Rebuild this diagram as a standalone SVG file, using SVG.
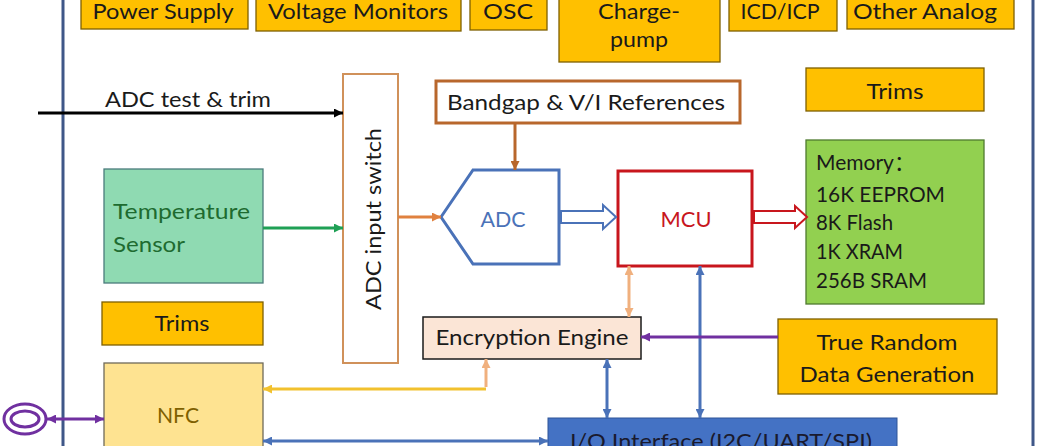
<svg xmlns="http://www.w3.org/2000/svg" width="1048" height="446" viewBox="0 0 1048 446">
<style>
  text { font-family: Lato, "Noto Sans", "Noto Sans CJK SC", sans-serif; font-size: 21px; fill: #1a1a1a; }
  .c { text-anchor: middle; }
  .gold { fill: #ffc000; stroke: #7f6000; stroke-width: 1.3; }
  .ln { fill: none; stroke-width: 3; }
</style>
<defs>
  <marker id="a-black" viewBox="0 0 10 10" refX="10" refY="5" markerWidth="9" markerHeight="9" markerUnits="userSpaceOnUse" orient="auto-start-reverse"><path d="M0,0 L10,5 L0,10 z" fill="#000"/></marker>
  <marker id="a-green" viewBox="0 0 10 10" refX="10" refY="5" markerWidth="9" markerHeight="9" markerUnits="userSpaceOnUse" orient="auto-start-reverse"><path d="M0,0 L10,5 L0,10 z" fill="#1fa055"/></marker>
  <marker id="a-orange" viewBox="0 0 10 10" refX="10" refY="5" markerWidth="9" markerHeight="9" markerUnits="userSpaceOnUse" orient="auto-start-reverse"><path d="M0,0 L10,5 L0,10 z" fill="#e0813f"/></marker>
  <marker id="a-brown" viewBox="0 0 10 10" refX="10" refY="5" markerWidth="9" markerHeight="9" markerUnits="userSpaceOnUse" orient="auto-start-reverse"><path d="M0,0 L10,5 L0,10 z" fill="#b8672c"/></marker>
  <marker id="a-blue" viewBox="0 0 10 10" refX="10" refY="5" markerWidth="9" markerHeight="9" markerUnits="userSpaceOnUse" orient="auto-start-reverse"><path d="M0,0 L10,5 L0,10 z" fill="#4a72b8"/></marker>
  <marker id="a-peach" viewBox="0 0 10 10" refX="10" refY="5" markerWidth="9" markerHeight="9" markerUnits="userSpaceOnUse" orient="auto-start-reverse"><path d="M0,0 L10,5 L0,10 z" fill="#f0b07e"/></marker>
  <marker id="a-yellow" viewBox="0 0 10 10" refX="10" refY="5" markerWidth="9" markerHeight="9" markerUnits="userSpaceOnUse" orient="auto-start-reverse"><path d="M0,0 L10,5 L0,10 z" fill="#f2c12e"/></marker>
  <marker id="a-purple" viewBox="0 0 10 10" refX="10" refY="5" markerWidth="9" markerHeight="9" markerUnits="userSpaceOnUse" orient="auto-start-reverse"><path d="M0,0 L10,5 L0,10 z" fill="#7030a0"/></marker>
</defs>

<rect width="1048" height="446" fill="#fff"/>

<g id="frame"><rect x="63" y="-10" width="970" height="470" fill="none" stroke="#3f5788" stroke-width="3"/></g>

<g id="power-supply"><rect class="gold" x="81" y="-5" width="167" height="34"/><text class="c" x="163" y="19" textLength="141" lengthAdjust="spacingAndGlyphs">Power Supply</text></g>
<g id="voltage-monitors"><rect class="gold" x="256" y="-5" width="205" height="36"/><text class="c" x="358" y="19" textLength="180" lengthAdjust="spacingAndGlyphs">Voltage Monitors</text></g>
<g id="osc"><rect class="gold" x="470" y="-5" width="77" height="35"/><text class="c" x="508" y="19" textLength="50" lengthAdjust="spacingAndGlyphs">OSC</text></g>
<g id="charge-pump"><rect class="gold" x="559" y="-5" width="161" height="67"/><text class="c" x="639" y="19" textLength="82" lengthAdjust="spacingAndGlyphs">Charge-</text><text class="c" x="639" y="47" textLength="58" lengthAdjust="spacingAndGlyphs">pump</text></g>
<g id="icd-icp"><rect class="gold" x="729" y="-5" width="108" height="36"/><text class="c" x="780" y="19" textLength="79" lengthAdjust="spacingAndGlyphs">ICD/ICP</text></g>
<g id="other-analog"><rect class="gold" x="847" y="-5" width="167" height="34"/><text class="c" x="925" y="19" textLength="144" lengthAdjust="spacingAndGlyphs">Other Analog</text></g>

<g id="trims-right"><rect class="gold" x="806" y="68" width="178" height="43"/><text class="c" x="895" y="99" textLength="57" lengthAdjust="spacingAndGlyphs">Trims</text></g>

<g id="adc-test-label"><text x="105" y="107" textLength="166" lengthAdjust="spacingAndGlyphs">ADC test &amp; trim</text></g>

<g id="adc-input-switch"><rect x="343" y="74" width="55" height="289" fill="#fff" stroke="#d0915a" stroke-width="2"/><text class="c" transform="translate(381,219) rotate(-90)" textLength="182" lengthAdjust="spacingAndGlyphs">ADC input switch</text></g>

<g id="bandgap"><rect x="436" y="81" width="304" height="42" fill="#fff" stroke="#b8672c" stroke-width="3"/><text class="c" x="586" y="110" textLength="278" lengthAdjust="spacingAndGlyphs">Bandgap &amp; V/I References</text></g>

<g id="temperature-sensor"><rect x="104" y="169" width="159" height="114" fill="#8fdab2" stroke="#4a7c7c" stroke-width="1.3"/><text x="113" y="219" style="fill:#1e6b30" textLength="137" lengthAdjust="spacingAndGlyphs">Temperature</text><text x="113" y="252" style="fill:#1e6b30" textLength="72" lengthAdjust="spacingAndGlyphs">Sensor</text></g>

<g id="adc"><polygon points="441,217 473,170 559,170 559,264 473,264" fill="#fff" stroke="#4a72b8" stroke-width="3"/><text class="c" x="503" y="227" style="fill:#4a72b8" textLength="45" lengthAdjust="spacingAndGlyphs">ADC</text></g>

<g id="mcu"><rect x="618" y="171" width="134" height="95" fill="#fff" stroke="#c8161d" stroke-width="3"/><text class="c" x="686" y="227" style="fill:#c8161d" textLength="51" lengthAdjust="spacingAndGlyphs">MCU</text></g>

<g id="memory"><rect x="806" y="140" width="178" height="164" fill="#92d050" stroke="#4f7a2f" stroke-width="1.3"/>
<text x="816" y="170">Memory：</text>
<text x="816" y="202" textLength="129" lengthAdjust="spacingAndGlyphs">16K EEPROM</text>
<text x="816" y="230" textLength="77" lengthAdjust="spacingAndGlyphs">8K Flash</text>
<text x="816" y="259" textLength="87" lengthAdjust="spacingAndGlyphs">1K XRAM</text>
<text x="816" y="288" textLength="111" lengthAdjust="spacingAndGlyphs">256B SRAM</text></g>

<g id="trims-left"><rect class="gold" x="102" y="302" width="161" height="43"/><text class="c" x="182" y="331" textLength="55" lengthAdjust="spacingAndGlyphs">Trims</text></g>

<g id="encryption-engine"><rect x="423" y="317" width="218" height="42" fill="#fbe5d6" stroke="#1a1a1a" stroke-width="1.5"/><text class="c" x="532" y="345" textLength="193" lengthAdjust="spacingAndGlyphs">Encryption Engine</text></g>

<g id="trng"><rect class="gold" x="778" y="319" width="219" height="75"/><text class="c" x="887" y="350" textLength="141" lengthAdjust="spacingAndGlyphs">True Random</text><text class="c" x="887" y="382" textLength="175" lengthAdjust="spacingAndGlyphs">Data Generation</text></g>

<g id="nfc"><rect x="104" y="363" width="159" height="100" fill="#fee391" stroke="#6f6a5a" stroke-width="1.3"/><text class="c" x="178" y="423" style="fill:#7f6000" textLength="42" lengthAdjust="spacingAndGlyphs">NFC</text></g>

<g id="io-interface"><rect x="548" y="418" width="349" height="40" fill="#4472c4" stroke="#2f5597" stroke-width="1"/><text class="c" x="721" y="449" style="fill:#1a1a2e" textLength="302" lengthAdjust="spacingAndGlyphs">I/O Interface (I2C/UART/SPI)</text></g>

<g id="antenna"><ellipse cx="25" cy="419" rx="21" ry="15" fill="none" stroke="#7030a0" stroke-width="3"/><ellipse cx="25" cy="419" rx="14" ry="8" fill="none" stroke="#7030a0" stroke-width="3"/></g>

<g id="connectors">
  <path class="ln" d="M38,113 H343" stroke="#000" marker-end="url(#a-black)"/>
  <path class="ln" d="M263,228 H343" stroke="#1fa055" marker-end="url(#a-green)"/>
  <path class="ln" d="M398,217 H441" stroke="#e0813f" marker-end="url(#a-orange)"/>
  <path class="ln" d="M515,123 V170" stroke="#b8672c" marker-end="url(#a-brown)"/>
  <polygon points="561,211 603,211 603,205 616,217 603,229 603,223 561,223" fill="#fff" stroke="#4a72b8" stroke-width="2"/>
  <polygon points="754,211 795,211 795,206 807,217 795,228 795,223 754,223" fill="#fff" stroke="#c8161d" stroke-width="2"/>
  <path class="ln" d="M629,266 V317" stroke="#f0b07e" marker-start="url(#a-peach)" marker-end="url(#a-peach)"/>
  <path class="ln" d="M700,266 V418" stroke="#4a72b8" marker-start="url(#a-blue)" marker-end="url(#a-blue)"/>
  <path class="ln" d="M778,337 H641" stroke="#7030a0" marker-end="url(#a-purple)"/>
  <path class="ln" d="M607,359 V418" stroke="#4a72b8" marker-start="url(#a-blue)" marker-end="url(#a-blue)"/>
  <path class="ln" d="M486,387 V359" stroke="#f0b07e" marker-end="url(#a-peach)"/>
  <path class="ln" d="M486,389 H263" stroke="#f2c12e" marker-end="url(#a-yellow)"/>
  <path class="ln" d="M263,441 H548" stroke="#4a72b8" marker-start="url(#a-blue)" marker-end="url(#a-blue)"/>
  <path class="ln" d="M47,419 H104" stroke="#7030a0" marker-start="url(#a-purple)" marker-end="url(#a-purple)"/>
</g>
</svg>
